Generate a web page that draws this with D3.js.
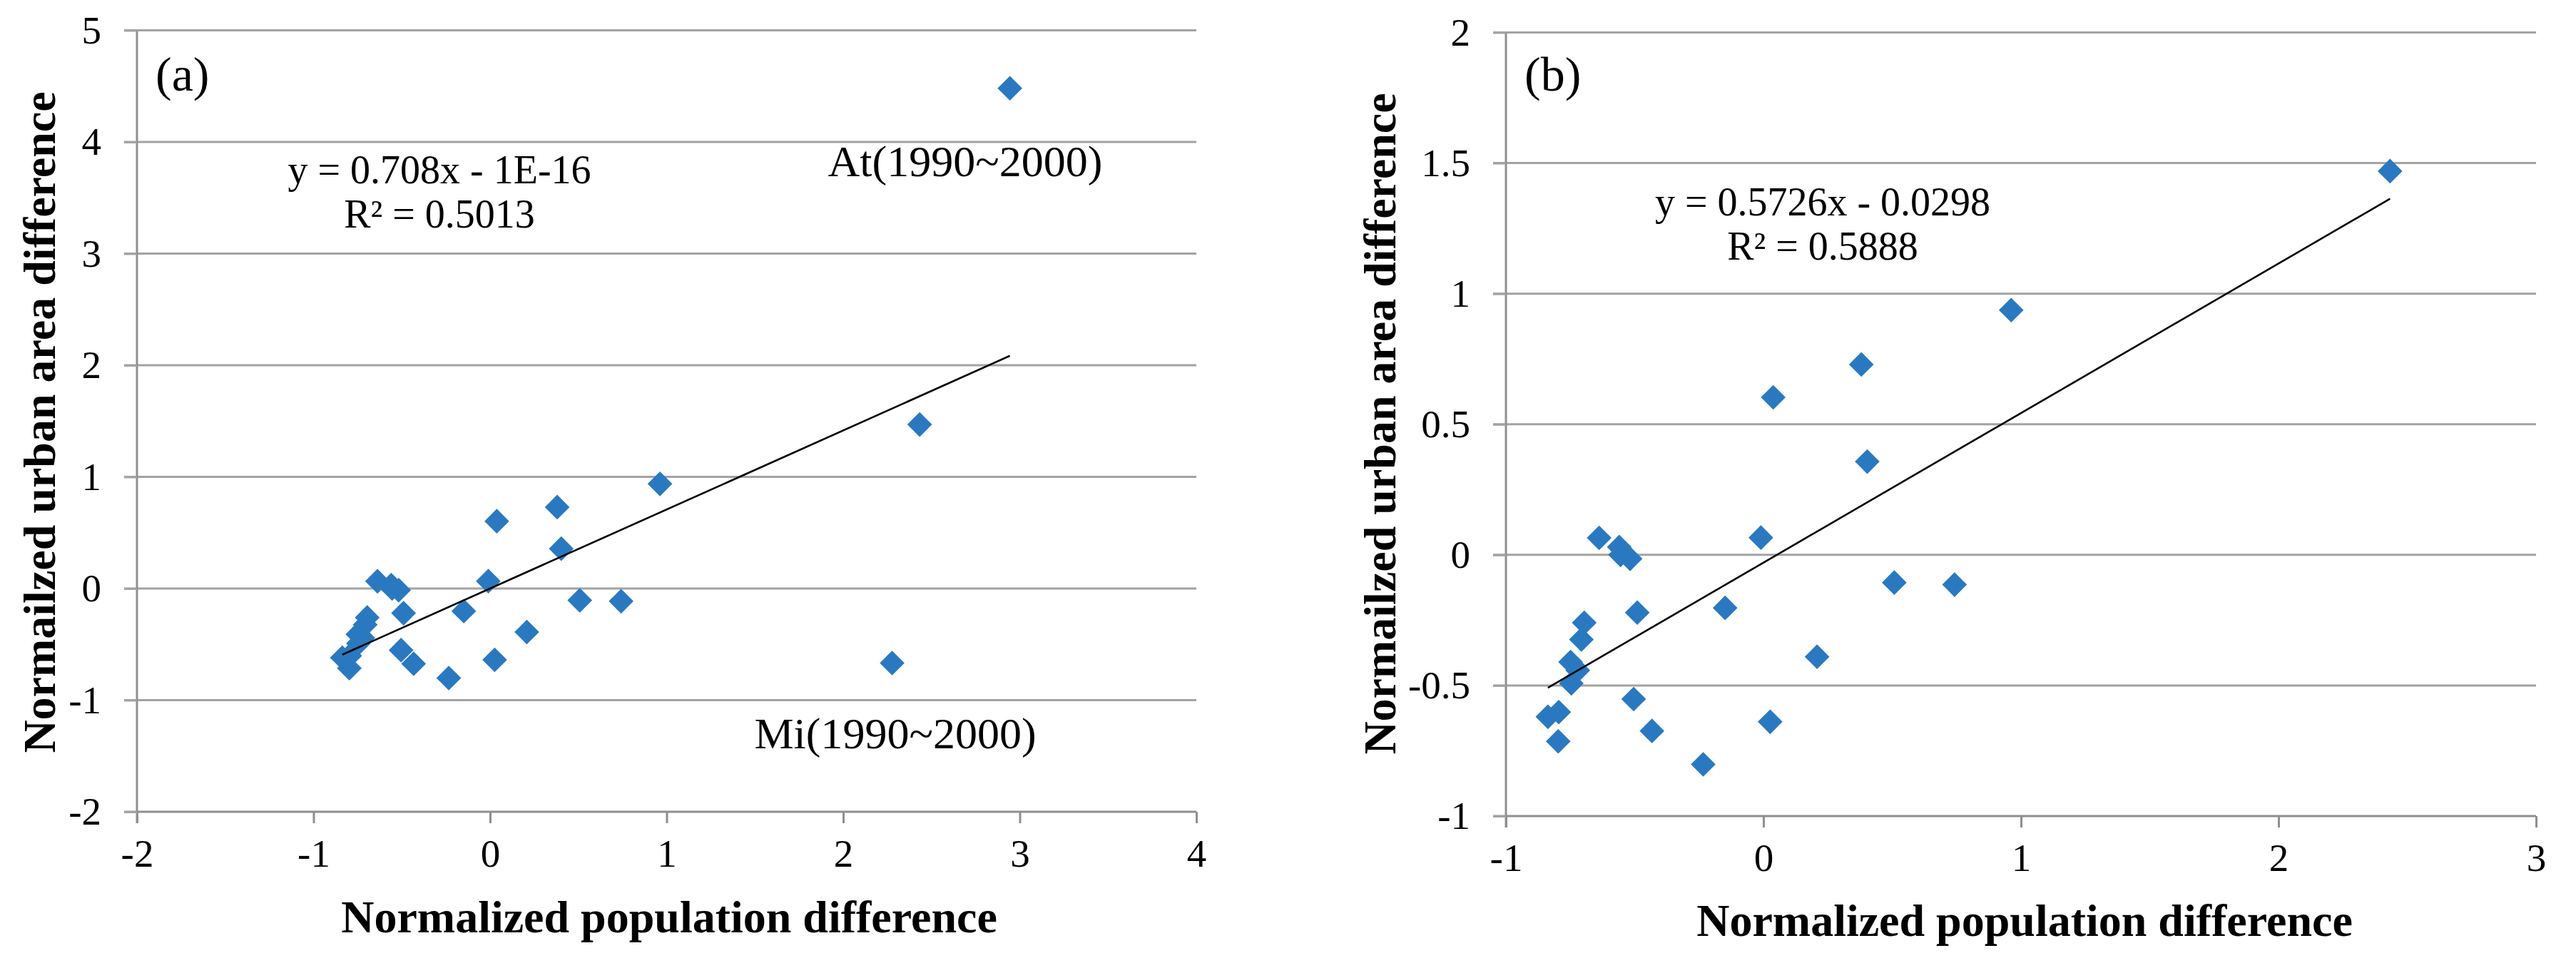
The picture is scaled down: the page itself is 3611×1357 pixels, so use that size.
<!DOCTYPE html>
<html>
<head>
<meta charset="utf-8">
<script src="https://cdn.jsdelivr.net/npm/d3@7"></script>
<style>
  html, body { margin: 0; padding: 0; background: #fff; }
  svg { display: block; }
  text { font-family: "Liberation Serif", "Times New Roman", serif; fill: #000; }
</style>
</head>
<body>
<svg id="chart" width="3611" height="1357"></svg>
<script>
// ---------------- data ----------------
// Common points (shown in both panels)
const popDiff = [2.433, 0.962, 0.380, 0.038, 0.403, -0.010, 0.508, 0.742, 0.208, 0.026,
  -0.638, -0.560, -0.555, -0.518, -0.490, -0.149, -0.696, -0.707, -0.749, -0.721,
  -0.746, -0.504, -0.837, -0.795, -0.433, -0.797, -0.234];
const urbanDiff = [1.469, 0.937, 0.729, 0.603, 0.357, 0.066, -0.106, -0.114, -0.390, -0.639,
  0.065, 0.030, 0.000, -0.015, -0.221, -0.203, -0.260, -0.324, -0.410, -0.442,
  -0.492, -0.552, -0.620, -0.602, -0.674, -0.714, -0.802];
// Outliers shown only in panel (a)
const outlierPop = [2.944, 2.277];
const outlierUrban = [4.481, -0.668];
const outlierLabels = ["At(1990~2000)", "Mi(1990~2000)"];

const xTicksA = [-2, -1, 0, 1, 2, 3, 4];
const yTicksA = [-2, -1, 0, 1, 2, 3, 4, 5];
const xTicksB = [-1, 0, 1, 2, 3];
const yTicksB = [-1, -0.5, 0, 0.5, 1, 1.5, 2];

const fitA = [0.708, 0];        // slope, intercept
const fitB = [0.5726, -0.0298];
const eqA = ["y = 0.708x - 1E-16", "R\u00B2 = 0.5013"];
const eqB = ["y = 0.5726x - 0.0298", "R\u00B2 = 0.5888"];
const panelLabels = ["(a)", "(b)"];
const xTitle = "Normalized population difference";
const yTitle = "Normailzed urban area difference";

// ---------------- layout ----------------
const svg = d3.select("#chart");
const gridColor = "#a3a3a3", axisColor = "#8f8f8f", dotColor = "#2a79c0";

function panel(cfg) {
  const x = d3.scaleLinear().domain(cfg.xDomain).range([cfg.left, cfg.right]);
  const y = d3.scaleLinear().domain(cfg.yDomain).range([cfg.bottom, cfg.top]);
  const g = svg.append("g");

  // gridlines (all y ticks except the bottom axis)
  g.append("g").selectAll("line").data(cfg.yTicks.filter(v => v !== cfg.yDomain[0])).join("line")
    .attr("x1", cfg.left - 18).attr("x2", cfg.right)
    .attr("y1", d => y(d)).attr("y2", d => y(d))
    .attr("stroke", gridColor).attr("stroke-width", 3);

  // x axis
  const xAxis = d3.axisBottom(x).tickValues(cfg.xTicks).tickSize(16).tickPadding(22)
    .tickFormat(d => String(d));
  const gx = g.append("g").attr("transform", `translate(0,${cfg.bottom})`).call(xAxis);
  gx.select(".domain").attr("stroke", axisColor).attr("stroke-width", 3)
    .attr("d", `M${cfg.left - 18},0H${cfg.right}`);
  gx.selectAll(".tick line").attr("stroke", axisColor).attr("stroke-width", 3);
  gx.selectAll(".tick text").attr("font-size", 55).attr("fill", "#000")
    .attr("font-family", "Liberation Serif, Times New Roman, serif");

  // y axis
  const yAxis = d3.axisLeft(y).tickValues(cfg.yTicks).tickSize(18).tickPadding(32)
    .tickFormat(d => String(d));
  const gy = g.append("g").attr("transform", `translate(${cfg.left},0)`).call(yAxis);
  gy.select(".domain").attr("stroke", axisColor).attr("stroke-width", 3)
    .attr("d", `M0,${cfg.top}V${cfg.bottom + 16}`);
  gy.selectAll(".tick line").attr("stroke", gridColor).attr("stroke-width", 3);
  gy.selectAll(".tick text").attr("font-size", 55).attr("fill", "#000")
    .attr("font-family", "Liberation Serif, Times New Roman, serif");

  // points
  const pts = cfg.px.map((v, i) => [v, cfg.py[i]]);
  const sym = d3.symbol().type(d3.symbolSquare).size(600);
  g.append("g").selectAll("path").data(pts).join("path")
    .attr("d", sym)
    .attr("transform", d => `translate(${x(d[0])},${y(d[1])}) rotate(45)`)
    .attr("fill", dotColor);

  // trend line from min x to max x
  const xs = d3.extent(cfg.px);
  const line = d3.line().x(d => x(d)).y(d => y(cfg.fit[0] * d + cfg.fit[1]));
  g.append("path").datum(xs).attr("d", line)
    .attr("stroke", "#000").attr("stroke-width", 2.6).attr("fill", "none");

  // equation
  g.append("text").attr("x", cfg.eqX).attr("y", cfg.eqY).attr("text-anchor", "middle")
    .attr("font-size", 56).text(cfg.eq[0]);
  g.append("text").attr("x", cfg.eqX).attr("y", cfg.eqY + 62).attr("text-anchor", "middle")
    .attr("font-size", 56).text(cfg.eq[1]);

  // panel label
  g.append("text").attr("x", cfg.left + 26).attr("y", 127).attr("font-size", 68).text(cfg.label);

  // axis titles
  g.append("text").attr("x", cfg.xTitleX).attr("y", cfg.xTitleY).attr("text-anchor", "middle")
    .attr("font-size", 64).attr("font-weight", "bold").text(xTitle);
  g.append("text").attr("transform", `translate(${cfg.yTitleX},${cfg.yTitleY}) rotate(-90)`)
    .attr("text-anchor", "middle").attr("font-size", 64).attr("font-weight", "bold").text(yTitle);

  return {x, y, g};
}

// Panel (a)
const A = panel({
  left: 192, right: 1677, top: 42.5, bottom: 1138,
  xDomain: [-2, 4], yDomain: [-2, 5], xTicks: xTicksA, yTicks: yTicksA,
  px: popDiff.concat(outlierPop), py: urbanDiff.concat(outlierUrban),
  fit: fitA, eq: eqA, eqX: 616, eqY: 257, label: panelLabels[0],
  xTitleX: 938, xTitleY: 1307, yTitleX: 77, yTitleY: 592
});
// outlier labels
const labelPos = [[1353, 247], [1255, 1049]];
A.g.append("g").selectAll("text").data(outlierLabels).join("text")
  .attr("x", (d, i) => labelPos[i][0]).attr("y", (d, i) => labelPos[i][1])
  .attr("text-anchor", "middle").attr("font-size", 62).text(d => d);

// Panel (b)
panel({
  left: 2111, right: 3555, top: 45.5, bottom: 1144,
  xDomain: [-1, 3], yDomain: [-1, 2], xTicks: xTicksB, yTicks: yTicksB,
  px: popDiff, py: urbanDiff,
  fit: fitB, eq: eqB, eqX: 2555, eqY: 302, label: panelLabels[1],
  xTitleX: 2838, xTitleY: 1312, yTitleX: 1956, yTitleY: 594
});
</script>
</body>
</html>
